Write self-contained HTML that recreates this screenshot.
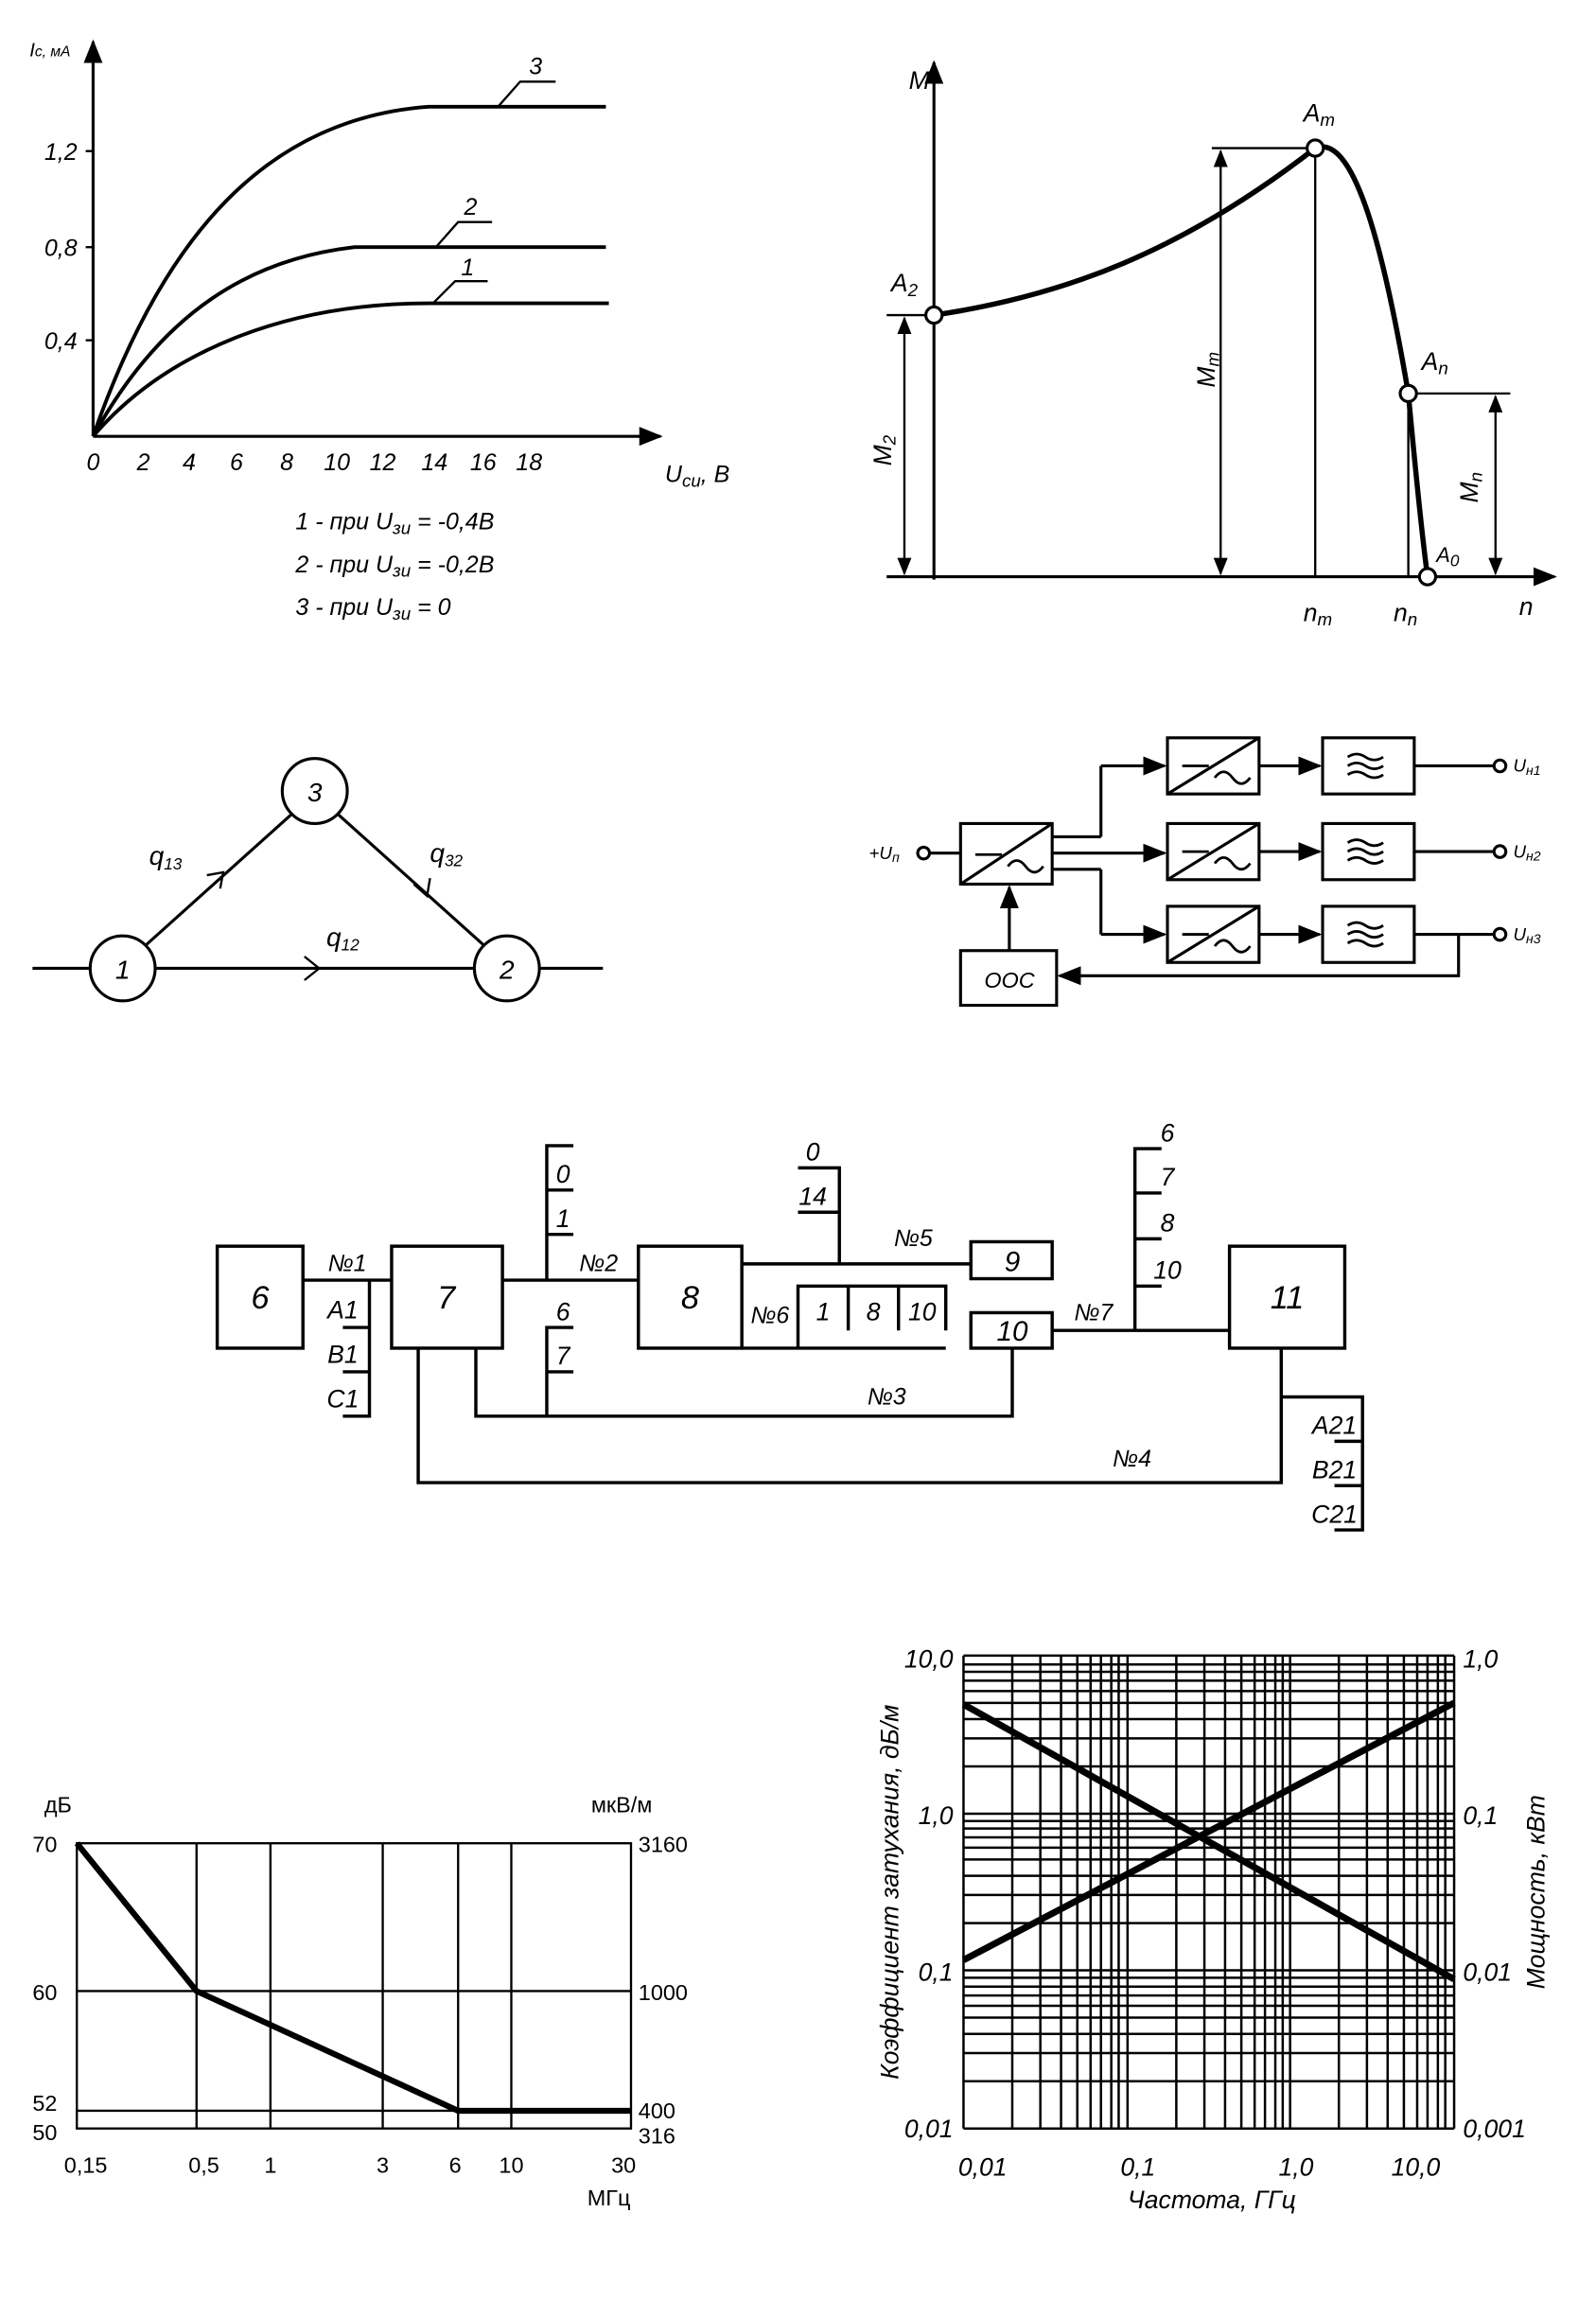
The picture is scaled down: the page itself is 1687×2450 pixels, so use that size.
<!DOCTYPE html>
<html><head><meta charset="utf-8"><style>
html,body{margin:0;padding:0;background:#fff}
svg{display:block}
text{font-family:"Liberation Sans",sans-serif;font-style:italic;fill:#000}
.u{font-style:normal}
</style></head><body>
<svg width="1687" height="2450" viewBox="0 0 1080 1568" xmlns="http://www.w3.org/2000/svg" stroke="#000" fill="none" stroke-width="2">
<defs>
<marker id="ar" viewBox="0 0 10 10" refX="9" refY="5" markerWidth="8" markerHeight="8" orient="auto-start-reverse"><path d="M0,1 L10,5 L0,9z" fill="#000" stroke="none"/></marker>
</defs>

<!-- Chart 1 -->
<line x1="63" y1="295" x2="63" y2="28" marker-end="url(#ar)"/>
<line x1="63" y1="295" x2="447" y2="295" marker-end="url(#ar)"/>
<g stroke-width="1.5">
<line x1="58" y1="102" x2="63" y2="102"/><line x1="58" y1="167" x2="63" y2="167"/><line x1="58" y1="230" x2="63" y2="230"/>
</g>
<path d="M63,295 C110,160 180,80 290,72 L410,72" stroke-width="2.5"/>
<path d="M63,295 C110,210 170,175 240,167 L410,167" stroke-width="2.5"/>
<path d="M63,295 C110,240 190,205 290,205 L412,205" stroke-width="2.5"/>
<path d="M337,72 L352,55 L376,55" stroke-width="1.5"/>
<path d="M295,167 L310,150 L333,150" stroke-width="1.5"/>
<path d="M293,205 L308,190 L330,190" stroke-width="1.5"/>
<g font-size="16" stroke="none">
<text x="20" y="38" font-size="13">I<tspan font-size="10">c, мА</tspan></text>
<text x="30" y="108">1,2</text><text x="30" y="173">0,8</text><text x="30" y="236">0,4</text>
<g text-anchor="middle">
<text x="63" y="318">0</text><text x="97" y="318">2</text><text x="128" y="318">4</text><text x="160" y="318">6</text><text x="194" y="318">8</text><text x="228" y="318">10</text><text x="259" y="318">12</text><text x="294" y="318">14</text><text x="327" y="318">16</text><text x="358" y="318">18</text>
</g>
<text x="450" y="326">U<tspan font-size="12" dy="3">си</tspan><tspan dy="-3">, В</tspan></text>
<text x="358" y="50">3</text><text x="314" y="145">2</text><text x="312" y="186">1</text>
<text x="200" y="358">1 - при  U<tspan font-size="12" dy="3">зи</tspan><tspan dy="-3"> = -0,4В</tspan></text>
<text x="200" y="387">2 - при  U<tspan font-size="12" dy="3">зи</tspan><tspan dy="-3"> = -0,2В</tspan></text>
<text x="200" y="416">3 - при  U<tspan font-size="12" dy="3">зи</tspan><tspan dy="-3"> = 0</tspan></text>
</g>

<!-- Chart 2 -->
<line x1="632" y1="392" x2="632" y2="42" marker-end="url(#ar)"/>
<line x1="600" y1="390" x2="1052" y2="390" marker-end="url(#ar)"/>
<path d="M632,213 C720,200 800,170 890,100 C915,90 935,160 953,266 C958,320 962,360 966,390" stroke-width="3.5"/>
<g stroke-width="1.5">
<line x1="600" y1="213" x2="632" y2="213"/>
<line x1="612" y1="215" x2="612" y2="388" marker-start="url(#ar)" marker-end="url(#ar)"/>
<line x1="820" y1="100" x2="890" y2="100"/>
<line x1="826" y1="102" x2="826" y2="388" marker-start="url(#ar)" marker-end="url(#ar)"/>
<line x1="890" y1="100" x2="890" y2="390"/>
<line x1="953" y1="266" x2="953" y2="390"/>
<line x1="953" y1="266" x2="1022" y2="266"/>
<line x1="1012" y1="268" x2="1012" y2="388" marker-start="url(#ar)" marker-end="url(#ar)"/>
</g>
<g fill="#fff" stroke-width="2">
<circle cx="632" cy="213" r="5.5"/><circle cx="890" cy="100" r="5.5"/><circle cx="953" cy="266" r="5.5"/><circle cx="966" cy="390" r="5.5"/>
</g>
<g font-size="17" stroke="none">
<text x="615" y="60">M</text>
<text x="603" y="197">A<tspan font-size="12" dy="3">2</tspan></text>
<text x="882" y="82">A<tspan font-size="12" dy="3">m</tspan></text>
<text x="962" y="250">A<tspan font-size="12" dy="3">n</tspan></text>
<text x="972" y="380" font-size="14">A<tspan font-size="11" dy="3">0</tspan></text>
<text transform="translate(603,315) rotate(-90)">M<tspan font-size="12" dy="3">2</tspan></text>
<text transform="translate(822,262) rotate(-90)">M<tspan font-size="12" dy="3">m</tspan></text>
<text transform="translate(1000,340) rotate(-90)">M<tspan font-size="12" dy="3">n</tspan></text>
<text x="882" y="420">n<tspan font-size="12" dy="3">m</tspan></text>
<text x="943" y="420">n<tspan font-size="12" dy="3">n</tspan></text>
<text x="1028" y="416">n</text>
</g>

<!-- Graph -->
<line x1="22" y1="655" x2="61" y2="655"/><line x1="105" y1="655" x2="321" y2="655"/><line x1="365" y1="655" x2="408" y2="655"/>
<line x1="99" y1="639" x2="197" y2="551"/><line x1="229" y1="551" x2="327" y2="639"/>
<circle cx="83" cy="655" r="22"/><circle cx="343" cy="655" r="22"/><circle cx="213" cy="535" r="22"/>
<path d="M206,647 L216,655 L206,663" stroke-width="1.5"/>
<path d="M140,592 L151,590 L149,601" stroke-width="1.5"/>
<path d="M280,598 L289,606 L291,594" stroke-width="1.5"/>
<g font-size="18" stroke="none" text-anchor="middle">
<text x="83" y="662">1</text><text x="343" y="662">2</text><text x="213" y="542">3</text>
<text x="112" y="585">q<tspan font-size="11" dy="3">13</tspan></text>
<text x="302" y="583">q<tspan font-size="11" dy="3">32</tspan></text>
<text x="232" y="640">q<tspan font-size="11" dy="3">12</tspan></text>
</g>

<!-- Power block diagram -->
<g stroke-width="2">
<circle cx="625" cy="577" r="4"/>
<line x1="629" y1="577" x2="650" y2="577"/>
<rect x="650" y="557" width="62" height="41"/>
<line x1="650" y1="598" x2="712" y2="557"/>
<line x1="712" y1="566" x2="745" y2="566"/>
<line x1="712" y1="577" x2="788" y2="577" marker-end="url(#ar)"/>
<line x1="712" y1="588" x2="745" y2="588"/>
<line x1="745" y1="518" x2="745" y2="566"/>
<line x1="745" y1="588" x2="745" y2="632"/>
<line x1="745" y1="518" x2="788" y2="518" marker-end="url(#ar)"/>
<line x1="745" y1="632" x2="788" y2="632" marker-end="url(#ar)"/>
<g id="row">
<rect x="790" y="499" width="62" height="38"/><line x1="790" y1="537" x2="852" y2="499"/>
<line x1="852" y1="518" x2="893" y2="518" marker-end="url(#ar)"/>
<rect x="895" y="499" width="62" height="38"/>
<path d="M912,512 q6,-4 12,0 t12,0 M912,518 q6,-4 12,0 t12,0 M912,524 q6,-4 12,0 t12,0" stroke-width="1.8"/>
<path d="M800,518 L818,518 M822,526 q6,-8 12,0 t12,0" stroke-width="1.8"/>
<line x1="957" y1="518" x2="1011" y2="518"/>
<circle cx="1015" cy="518" r="4"/>
</g>
<use href="#row" y="58"/>
<use href="#row" y="114"/>
<path d="M660,578 L678,578 M682,586 q6,-8 12,0 t12,0" stroke-width="1.8"/>
<path d="M987,632 L987,660 L717,660" marker-end="url(#ar)"/>
<rect x="650" y="643" width="65" height="37"/>
<line x1="683" y1="643" x2="683" y2="600" marker-end="url(#ar)"/>
</g>
<g font-size="12" stroke="none">
<text x="588" y="581">+U<tspan font-size="9" dy="2">п</tspan></text>
<text x="1024" y="522">U<tspan font-size="9" dy="2">н1</tspan></text>
<text x="1024" y="580">U<tspan font-size="9" dy="2">н2</tspan></text>
<text x="1024" y="636">U<tspan font-size="9" dy="2">н3</tspan></text>
<text x="666" y="668" font-size="15">ООС</text>
</g>

<!-- Middle block diagram -->
<g stroke-width="2.2">
<rect x="147" y="843" width="58" height="69"/>
<rect x="265" y="843" width="75" height="69"/>
<rect x="432" y="843" width="70" height="69"/>
<rect x="657" y="840" width="55" height="25"/>
<rect x="657" y="888" width="55" height="24"/>
<rect x="832" y="843" width="78" height="69"/>
<line x1="205" y1="866" x2="265" y2="866"/>
<line x1="340" y1="866" x2="432" y2="866"/>
<line x1="502" y1="855" x2="657" y2="855"/>
<line x1="502" y1="912" x2="640" y2="912"/>
<line x1="712" y1="900" x2="832" y2="900"/>
<path d="M250,866 L250,958 L232,958 M232,928 L250,928 M232,898 L250,898"/>
<path d="M370,866 L370,775 L388,775 M370,805 L388,805 M370,835 L388,835"/>
<path d="M322,912 L322,958 L685,958 L685,912"/>
<path d="M370,958 L370,898 L388,898 M370,928 L388,928"/>
<path d="M568,855 L568,790 L540,790 M540,820 L568,820"/>
<path d="M540,912 L540,870 L640,870 L640,900 M574,870 L574,900 M608,870 L608,900"/>
<path d="M768,900 L768,777 L786,777 M768,807 L786,807 M768,838 L786,838 M768,870 L786,870"/>
<path d="M283,912 L283,1003 L867,1003 L867,912"/>
<path d="M867,945 L922,945 L922,1035 L903,1035 M903,975 L922,975 M903,1005 L922,1005"/>
</g>
<g font-size="19" stroke="none" text-anchor="middle">
<text x="176" y="885" font-size="22">6</text><text x="302" y="885" font-size="22">7</text><text x="467" y="885" font-size="22">8</text>
<text x="685" y="860">9</text><text x="685" y="907">10</text><text x="871" y="885" font-size="22">11</text>
<text x="235" y="860" font-size="16">№1</text><text x="405" y="860" font-size="16">№2</text>
<text x="618" y="843" font-size="16">№5</text><text x="521" y="895" font-size="16">№6</text>
<text x="740" y="893" font-size="16">№7</text><text x="600" y="950" font-size="16">№3</text><text x="766" y="992" font-size="16">№4</text>
<text x="232" y="892" font-size="17">A1</text><text x="232" y="922" font-size="17">B1</text><text x="232" y="952" font-size="17">C1</text>
<text x="381" y="800" font-size="17">0</text><text x="381" y="830" font-size="17">1</text>
<text x="381" y="893" font-size="17">6</text><text x="381" y="923" font-size="17">7</text>
<text x="550" y="785" font-size="17">0</text><text x="550" y="815" font-size="17">14</text>
<text x="557" y="893" font-size="17">1</text><text x="591" y="893" font-size="17">8</text><text x="624" y="893" font-size="17">10</text>
<text x="790" y="772" font-size="17">6</text><text x="790" y="802" font-size="17">7</text><text x="790" y="833" font-size="17">8</text><text x="790" y="865" font-size="17">10</text>
<text x="903" y="970" font-size="17">A21</text><text x="903" y="1000" font-size="17">B21</text><text x="903" y="1030" font-size="17">C21</text>
</g>

<!-- Bottom-left chart -->
<g stroke-width="1.5">
<rect x="52" y="1247" width="375" height="193"/>
<line x1="133" y1="1247" x2="133" y2="1440"/><line x1="183" y1="1247" x2="183" y2="1440"/>
<line x1="259" y1="1247" x2="259" y2="1440"/><line x1="310" y1="1247" x2="310" y2="1440"/>
<line x1="346" y1="1247" x2="346" y2="1440"/>
<line x1="52" y1="1347" x2="427" y2="1347"/><line x1="52" y1="1428" x2="427" y2="1428"/>
</g>
<path d="M52,1247 L133,1347 L310,1428 L427,1428" stroke-width="4"/>
<g font-size="15" stroke="none" class="u" style="font-style:normal">
<text x="30" y="1226" style="font-style:normal">дБ</text>
<text x="400" y="1226" style="font-style:normal">мкВ/м</text>
<text x="22" y="1253" style="font-style:normal">70</text><text x="22" y="1353" style="font-style:normal">60</text>
<text x="22" y="1428" style="font-style:normal">52</text><text x="22" y="1448" style="font-style:normal">50</text>
<text x="432" y="1253" style="font-style:normal">3160</text><text x="432" y="1353" style="font-style:normal">1000</text>
<text x="432" y="1433" style="font-style:normal">400</text><text x="432" y="1450" style="font-style:normal">316</text>
<g text-anchor="middle">
<text x="58" y="1470" style="font-style:normal">0,15</text><text x="138" y="1470" style="font-style:normal">0,5</text>
<text x="183" y="1470" style="font-style:normal">1</text><text x="259" y="1470" style="font-style:normal">3</text>
<text x="308" y="1470" style="font-style:normal">6</text><text x="346" y="1470" style="font-style:normal">10</text>
<text x="422" y="1470" style="font-style:normal">30</text><text x="412" y="1492" style="font-style:normal">МГц</text>
</g>
</g>

<!-- Bottom-right log chart -->
<g id="lg" stroke-width="1.6"></g>
<g stroke-width="1.6">
<!-- vertical lines: decades at 652, 763, 873, 984 -->
<path d="M652,1120V1440 M685,1120V1440 M704,1120V1440 M718,1120V1440 M729,1120V1440 M738,1120V1440 M745,1120V1440 M752,1120V1440 M757,1120V1440 M763,1120V1440
M796,1120V1440 M815,1120V1440 M829,1120V1440 M840,1120V1440 M849,1120V1440 M856,1120V1440 M863,1120V1440 M868,1120V1440 M873,1120V1440
M906,1120V1440 M925,1120V1440 M939,1120V1440 M950,1120V1440 M959,1120V1440 M966,1120V1440 M973,1120V1440 M978,1120V1440 M984,1120V1440"/>
<!-- horizontal: decades at 1440,1333,1227,1120 -->
<path d="M652,1440H984 M652,1408H984 M652,1389H984 M652,1376H984 M652,1365H984 M652,1357H984 M652,1350H984 M652,1344H984 M652,1338H984 M652,1333H984
M652,1301H984 M652,1282H984 M652,1269H984 M652,1258H984 M652,1250H984 M652,1243H984 M652,1237H984 M652,1232H984 M652,1227H984
M652,1195H984 M652,1176H984 M652,1163H984 M652,1152H984 M652,1144H984 M652,1137H984 M652,1131H984 M652,1126H984 M652,1120H984"/>
</g>
<line x1="652" y1="1153" x2="984" y2="1339" stroke-width="4.5"/>
<line x1="652" y1="1326" x2="984" y2="1152" stroke-width="4.5"/>
<g font-size="17" stroke="none">
<g text-anchor="end">
<text x="645" y="1128">10,0</text><text x="645" y="1234">1,0</text><text x="645" y="1340">0,1</text><text x="645" y="1446">0,01</text>
</g>
<text x="990" y="1128">1,0</text><text x="990" y="1234">0,1</text><text x="990" y="1340">0,01</text><text x="990" y="1446">0,001</text>
<g text-anchor="middle">
<text x="665" y="1472">0,01</text><text x="770" y="1472">0,1</text><text x="877" y="1472">1,0</text><text x="958" y="1472">10,0</text>
<text x="820" y="1494">Частота, ГГц</text>
<text transform="translate(608,1280) rotate(-90)">Коэффициент затухания, дБ/м</text>
<text transform="translate(1045,1280) rotate(-90)">Мощность, кВт</text>
</g>
</g>
</svg>
</body></html>
